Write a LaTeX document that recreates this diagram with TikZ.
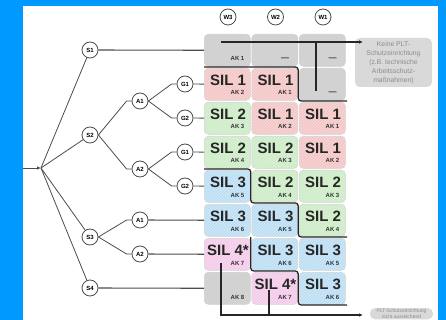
\documentclass[tikz,border=0pt]{standalone}
\usepackage{fontspec}
\setmainfont{Liberation Sans}
\usetikzlibrary{patterns,arrows.meta}
\definecolor{bgblue}{RGB}{0,153,255}
\definecolor{silgray}{RGB}{210,210,210}
\definecolor{silone}{RGB}{244,198,198}
\definecolor{siltwo}{RGB}{204,236,198}
\definecolor{silthree}{RGB}{186,222,244}
\definecolor{silfour}{RGB}{244,202,234}
\newcommand\nodash{{\fontsize{8}{8}\selectfont\textemdash}}

\begin{document}
\begin{tikzpicture}[x=1pt,y=-1pt,every node/.style={font=\bfseries},
  cell/.style={draw=black!18,line width=0.6pt,rounded corners=4pt,minimum width=46pt,minimum height=32pt,inner sep=0pt,anchor=north west},
  silbig/.style={inner sep=0pt,font=\bfseries\fontsize{15}{15}\selectfont,text=black!85},
  aklabel/.style={inner sep=0pt,anchor=base,font=\bfseries\fontsize{6}{6}\selectfont,text=black!80},
  knot/.style={circle,draw=black!70,line width=0.8pt,fill=white,minimum size=16pt,inner sep=0pt,font=\bfseries\fontsize{6}{6}\selectfont},
  branch/.style={draw=black!70,line width=0.8pt},
  stair/.style={draw=black!85,line width=1.3pt,rounded corners=3pt},
  flow/.style={draw=black!85,line width=1.1pt},
  tip/.style={-{Latex[length=4pt,width=3.5pt]}},
  note/.style={fill=black!15,rounded corners=5pt,text=black!45,align=center,inner sep=2pt}]
\clip (0,0) rectangle (446,320);
\useasboundingbox (0,0) rectangle (446,320);
\fill[bgblue] (0,0) rectangle (446,320);
\fill[white] (23,6) rectangle (438,320);

% risk graph cells
\foreach \r/\c/\col/\hc/\sil/\ak in {
  0/0/silgray/silgray/{}/AK 1, 0/1/silgray/silgray/{}/\nodash, 0/2/silgray/silgray/{}/\nodash,
  1/0/silone/white/SIL 1/AK 2, 1/1/silone/white/SIL 1/AK 1, 1/2/silgray/silgray/{}/\nodash,
  2/0/siltwo/white/SIL 2/AK 3, 2/1/silone/white/SIL 1/AK 2, 2/2/silone/white/SIL 1/AK 1,
  3/0/siltwo/white/SIL 2/AK 4, 3/1/siltwo/white/SIL 2/AK 3, 3/2/silone/white/SIL 1/AK 2,
  4/0/silthree/white/SIL 3/AK 5, 4/1/siltwo/white/SIL 2/AK 4, 4/2/siltwo/white/SIL 2/AK 3,
  5/0/silthree/white/SIL 3/AK 6, 5/1/silthree/white/SIL 3/AK 5, 5/2/siltwo/white/SIL 2/AK 4,
  6/0/silfour/white/SIL 4*/AK 7, 6/1/silthree/white/SIL 3/AK 6, 6/2/silthree/white/SIL 3/AK 5,
  7/0/silgray/silgray/{}/AK 8, 7/1/silfour/white/SIL 4*/AK 7, 7/2/silthree/white/SIL 3/AK 6}
{
  \node[cell,fill=\col,postaction={pattern=north east lines,pattern color=\hc,opacity=0.4}] (c\r\c) at ({204+47.5*\c},{34+34*\r}) {};
  \node[silbig] at ({228+47.5*\c},{46+34*\r}) {\sil};
  \node[aklabel] at ({237.5+47.5*\c},{61+34*\r}) {\ak};
}

% borders between the levels
\draw[stair] (204,67) -- (298.25,67) -- (298.25,101) -- (347,101);
\draw[stair] (204,169) -- (250.75,169) -- (250.75,203) -- (298.25,203) -- (298.25,237) -- (347,237);
\draw[stair] (250.75,237) -- (250.75,271) -- (298.25,271) -- (298.25,305) -- (347,305);

% parameters
\node[knot] (w3) at (228,17) {W3};
\node[knot] (w2) at (275.5,17) {W2};
\node[knot] (w1) at (323,17) {W1};
\node[knot] (s1) at (90,50) {S1};
\node[knot] (s2) at (90,135) {S2};
\node[knot] (s3) at (90,237) {S3};
\node[knot] (s4) at (90,288) {S4};
\node[knot] (s2a1) at (140,101) {A1};
\node[knot] (s2a2) at (140,169) {A2};
\node[knot] (s3a1) at (140,220) {A1};
\node[knot] (s3a2) at (140,254) {A2};
\node[knot] (g11) at (185,84) {G1};
\node[knot] (g12) at (185,118) {G2};
\node[knot] (g21) at (185,152) {G1};
\node[knot] (g22) at (185,186) {G2};

\coordinate (feed) at (23,168);
\coordinate (fork) at (41,168);
\draw[branch,tip] (feed) -- (fork);
\foreach \s in {s1,s2,s3,s4} \draw[branch] (fork) -- (\s);
\foreach \p/\q in {s2/s2a1,s2/s2a2,s3/s3a1,s3/s3a2,s2a1/g11,s2a1/g12,s2a2/g21,s2a2/g22}
  \draw[branch] (\p.east) -- ([xshift=-5pt]\q.west) -- (\q.west);
\foreach \p/\q in {g11/c10,g12/c20,g21/c30,g22/c40} \draw[branch] (\p) -- (\q);
\foreach \p/\q in {s1/c00,s3a1/c50,s3a2/c60,s4/c70} \draw[branch,line width=1.1pt] (\p) -- (\q);

% outcomes
\node[note,minimum width=77pt,minimum height=49pt,font=\fontsize{6.8}{9}\selectfont] (nonote) at (393.5,62.5) {Keine PLT-\\Schutzeinrichtung\\(z.B. technische\\Arbeitsschutz-\\maßnahmen)};
\node[note,minimum width=63pt,inner sep=1pt,anchor=south,font=\fontsize{5}{5.5}\selectfont] (lownote) at (401.5,319.5) {PLT-Schutzeinrichtung\\nicht ausreichend};
\coordinate (topstart) at (221,42);
\coordinate (topjoin) at (316,42);
\coordinate (topdrop) at (316,91);
\coordinate (toptip) at (363,42);
\draw[flow,tip] (topstart) -- (toptip);
\draw[flow] (topdrop) -- (topjoin);
\coordinate (lowstart) at (221,263);
\coordinate (lowcorner) at (221,315);
\coordinate (lowtip) at (363,315);
\coordinate (midstart) at (269,290);
\coordinate (midjoin) at (269,315);
\draw[flow,tip] (lowstart) -- (lowcorner) -- (lowtip);
\draw[flow] (midstart) -- (midjoin);
\end{tikzpicture}
\end{document}
